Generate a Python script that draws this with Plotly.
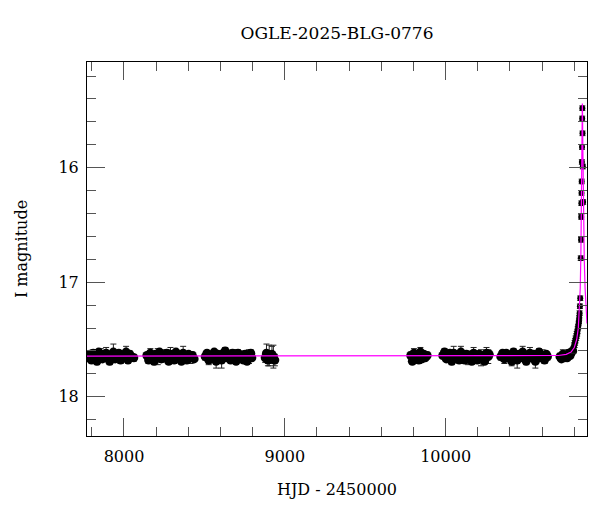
import plotly.graph_objects as go

# ---- photometry (HJD - 2450000, I mag, error) by observing season ----
t1 = [7776, 7787, 7798, 7809, 7821, 7832, 7843, 7855, 7866, 7877, 7889, 7900, 7911, 7923, 7934, 7945, 7957, 7968, 7979, 7991, 8002, 8013, 8025, 8036, 8047, 8061]
m1 = [17.66, 17.63, 17.68, 17.62, 17.65, 17.69, 17.61, 17.64, 17.67, 17.63, 17.62, 17.66, 17.69, 17.64, 17.61, 17.67, 17.65, 17.62, 17.68, 17.64, 17.66, 17.61, 17.68, 17.63, 17.65, 17.66]
e1 = [0.02, 0.03, 0.02, 0.03, 0.02, 0.03, 0.02, 0.06, 0.02, 0.03, 0.05, 0.02, 0.03, 0.02, 0.07, 0.02, 0.03, 0.02, 0.03, 0.02, 0.03, 0.05, 0.02, 0.03, 0.02, 0.03]

t2 = [8142, 8153, 8164, 8176, 8187, 8198, 8210, 8221, 8232, 8244, 8255, 8266, 8278, 8289, 8300, 8312, 8323, 8334, 8346, 8357, 8368, 8380, 8391, 8402, 8414, 8425, 8436]
m2 = [17.64, 17.68, 17.62, 17.66, 17.69, 17.63, 17.65, 17.61, 17.67, 17.64, 17.66, 17.62, 17.69, 17.63, 17.65, 17.68, 17.61, 17.66, 17.64, 17.69, 17.62, 17.65, 17.68, 17.63, 17.66, 17.64, 17.67]
e2 = [0.02, 0.03, 0.04, 0.02, 0.03, 0.02, 0.07, 0.02, 0.03, 0.05, 0.02, 0.03, 0.02, 0.06, 0.02, 0.03, 0.02, 0.04, 0.03, 0.02, 0.06, 0.02, 0.03, 0.02, 0.05, 0.03, 0.02]

t3 = [8505, 8516, 8527, 8539, 8550, 8561, 8573, 8584, 8595, 8607, 8618, 8629, 8641, 8652, 8663, 8675, 8686, 8697, 8709, 8720, 8731, 8743, 8754, 8765, 8777, 8788, 8795]
m3 = [17.65, 17.62, 17.68, 17.64, 17.66, 17.61, 17.69, 17.63, 17.65, 17.68, 17.62, 17.60, 17.66, 17.64, 17.68, 17.62, 17.65, 17.69, 17.62, 17.66, 17.64, 17.68, 17.63, 17.69, 17.65, 17.62, 17.66]
e3 = [0.03, 0.02, 0.04, 0.02, 0.03, 0.02, 0.06, 0.02, 0.03, 0.07, 0.02, 0.03, 0.02, 0.04, 0.02, 0.03, 0.06, 0.02, 0.03, 0.02, 0.04, 0.02, 0.03, 0.02, 0.06, 0.03, 0.02]

t4 = [8878, 8886, 8895, 8903, 8912, 8920, 8929, 8938]
m4 = [17.66, 17.62, 17.68, 17.64, 17.67, 17.63, 17.65, 17.68]
e4 = [0.04, 0.08, 0.05, 0.09, 0.04, 0.07, 0.10, 0.05]

t5 = [9783, 9793, 9803, 9813, 9823, 9833, 9843, 9853, 9863, 9873, 9885]
m5 = [17.64, 17.69, 17.62, 17.66, 17.65, 17.68, 17.61, 17.67, 17.63, 17.66, 17.64]
e5 = [0.03, 0.02, 0.04, 0.03, 0.02, 0.03, 0.04, 0.02, 0.03, 0.02, 0.03]

t6 = [9982, 9993, 10004, 10016, 10027, 10038, 10050, 10061, 10072, 10084, 10095, 10106, 10118, 10129, 10140, 10152, 10163, 10174, 10186, 10197, 10208, 10220, 10231, 10242, 10254, 10265, 10271]
m6 = [17.64, 17.61, 17.67, 17.65, 17.62, 17.69, 17.62, 17.66, 17.64, 17.68, 17.61, 17.65, 17.68, 17.63, 17.66, 17.64, 17.69, 17.62, 17.65, 17.68, 17.63, 17.66, 17.64, 17.69, 17.62, 17.65, 17.63]
e6 = [0.02, 0.03, 0.02, 0.04, 0.02, 0.03, 0.06, 0.02, 0.03, 0.02, 0.05, 0.02, 0.03, 0.02, 0.06, 0.03, 0.02, 0.05, 0.02, 0.03, 0.02, 0.07, 0.03, 0.02, 0.05, 0.06, 0.03]

t7 = [10343, 10354, 10365, 10377, 10388, 10399, 10411, 10422, 10433, 10445, 10456, 10467, 10479, 10490, 10501, 10513, 10524, 10535, 10547, 10558, 10569, 10581, 10592, 10603, 10615, 10626, 10633]
m7 = [17.65, 17.62, 17.67, 17.62, 17.66, 17.64, 17.69, 17.61, 17.65, 17.68, 17.63, 17.66, 17.61, 17.64, 17.69, 17.65, 17.62, 17.66, 17.63, 17.69, 17.64, 17.61, 17.66, 17.64, 17.68, 17.63, 17.65]
e7 = [0.03, 0.02, 0.04, 0.02, 0.03, 0.02, 0.04, 0.03, 0.02, 0.07, 0.02, 0.03, 0.05, 0.02, 0.03, 0.02, 0.05, 0.02, 0.03, 0.06, 0.02, 0.03, 0.02, 0.05, 0.03, 0.02, 0.03]

t8 = [10711, 10720, 10729, 10738, 10747, 10756, 10765, 10774, 10783, 10790]
m8 = [17.65, 17.67, 17.63, 17.66, 17.64, 17.66, 17.62, 17.64, 17.61, 17.60]
e8 = [0.03, 0.02, 0.04, 0.02, 0.03, 0.02, 0.03, 0.02, 0.03, 0.02]

# rise and peak of the event
t9 = [10794, 10798, 10802, 10805, 10808, 10812, 10815, 10818, 10821, 10824, 10827, 10829, 10831, 10833, 10835, 10837, 10840, 10842, 10843, 10844, 10845, 10846, 10847, 10848, 10849, 10850, 10851, 10853, 10855]
m9 = [17.59, 17.56, 17.54, 17.52, 17.50, 17.48, 17.46, 17.44, 17.42, 17.39, 17.36, 17.34, 17.31, 17.27, 17.21, 17.14, 16.79, 16.63, 16.43, 16.31, 16.22, 16.12, 15.95, 15.82, 15.57, 15.48, 15.70, 15.99, 16.30]
e9 = [0.03, 0.03, 0.03, 0.03, 0.03, 0.03, 0.03, 0.03, 0.03, 0.02, 0.02, 0.02, 0.02, 0.02, 0.02, 0.02, 0.02, 0.02, 0.02, 0.02, 0.02, 0.02, 0.02, 0.02, 0.02, 0.02, 0.02, 0.02, 0.02]

# ---- model curve ----
model_t = [7770, 10600, 10700, 10750, 10780, 10800, 10815, 10825, 10832, 10837, 10841, 10844, 10846, 10848, 10849, 10850, 10851, 10853, 10855, 10858, 10862, 10867, 10873, 10879]
model_m = [17.645, 17.645, 17.64, 17.63, 17.61, 17.57, 17.50, 17.40, 17.25, 17.05, 16.75, 16.40, 16.10, 15.75, 15.55, 15.44, 15.52, 15.80, 16.10, 16.45, 16.80, 17.05, 17.22, 17.36]

title_text = "OGLE-2025-BLG-0776"
x_title = "HJD - 2450000"
y_title = "I magnitude"
x_ticks = [8000, 9000, 10000]
y_ticks = [16, 17, 18]

t_base = t1 + t2 + t3 + t4 + t5 + t6 + t7 + t8
m_base = m1 + m2 + m3 + m4 + m5 + m6 + m7 + m8
e_base = e1 + e2 + e3 + e4 + e5 + e6 + e7 + e8

FONT = "DejaVu Serif"

fig = go.Figure()
fig.add_trace(go.Scatter(
    x=t_base, y=m_base, mode="markers",
    marker=dict(color="black", size=9, symbol="circle"),
    error_y=dict(type="data", array=e_base, visible=True, color="#222222", thickness=1, width=3),
    showlegend=False, hoverinfo="skip"))
fig.add_trace(go.Scatter(
    x=t9, y=m9, mode="markers",
    marker=dict(color="black", size=6, symbol="circle"),
    error_y=dict(type="data", array=e9, visible=True, color="#222222", thickness=1, width=3),
    showlegend=False, hoverinfo="skip"))
fig.add_trace(go.Scatter(
    x=model_t, y=model_m, mode="lines",
    line=dict(color="#ff00ff", width=1.2),
    showlegend=False, hoverinfo="skip"))

axis_common = dict(
    showline=True, linecolor="black", linewidth=1, mirror="allticks",
    ticks="inside", tickcolor="#555555", tickwidth=1, ticklen=18,
    showgrid=False, zeroline=False, automargin=False,
    tickfont=dict(family=FONT, size=16, color="black"),
)

fig.update_xaxes(
    range=[7770, 10879], tickvals=x_ticks, ticktext=[str(v) for v in x_ticks],
    minor=dict(ticks="inside", ticklen=9, dtick=200, tick0=0, tickcolor="#555555", showgrid=False),
    ticklabelstandoff=6,
    title=dict(text=x_title, font=dict(family=FONT, size=16, color="black"), standoff=18),
    **axis_common)
fig.update_yaxes(
    range=[18.343, 15.077], tickvals=y_ticks, ticktext=[str(v) for v in y_ticks],
    minor=dict(ticks="inside", ticklen=9, dtick=0.2, tick0=0, tickcolor="#555555", showgrid=False),
    ticklabelstandoff=4,
    title=dict(text=y_title, font=dict(family=FONT, size=16, color="black"), standoff=26),
    **axis_common)

# the page adds an 8px body margin, so the figure is 592x504 to fill the 600x512 window
fig.update_layout(
    width=592, height=504,
    margin=dict(l=79, r=13, t=54, b=76),
    paper_bgcolor="white", plot_bgcolor="white",
    title=dict(text=title_text, x=0.5, xref="paper", y=1 - 25 / 504, yref="container",
               yanchor="middle", font=dict(family=FONT, size=17, color="black")),
)

fig.write_html("out.html")
